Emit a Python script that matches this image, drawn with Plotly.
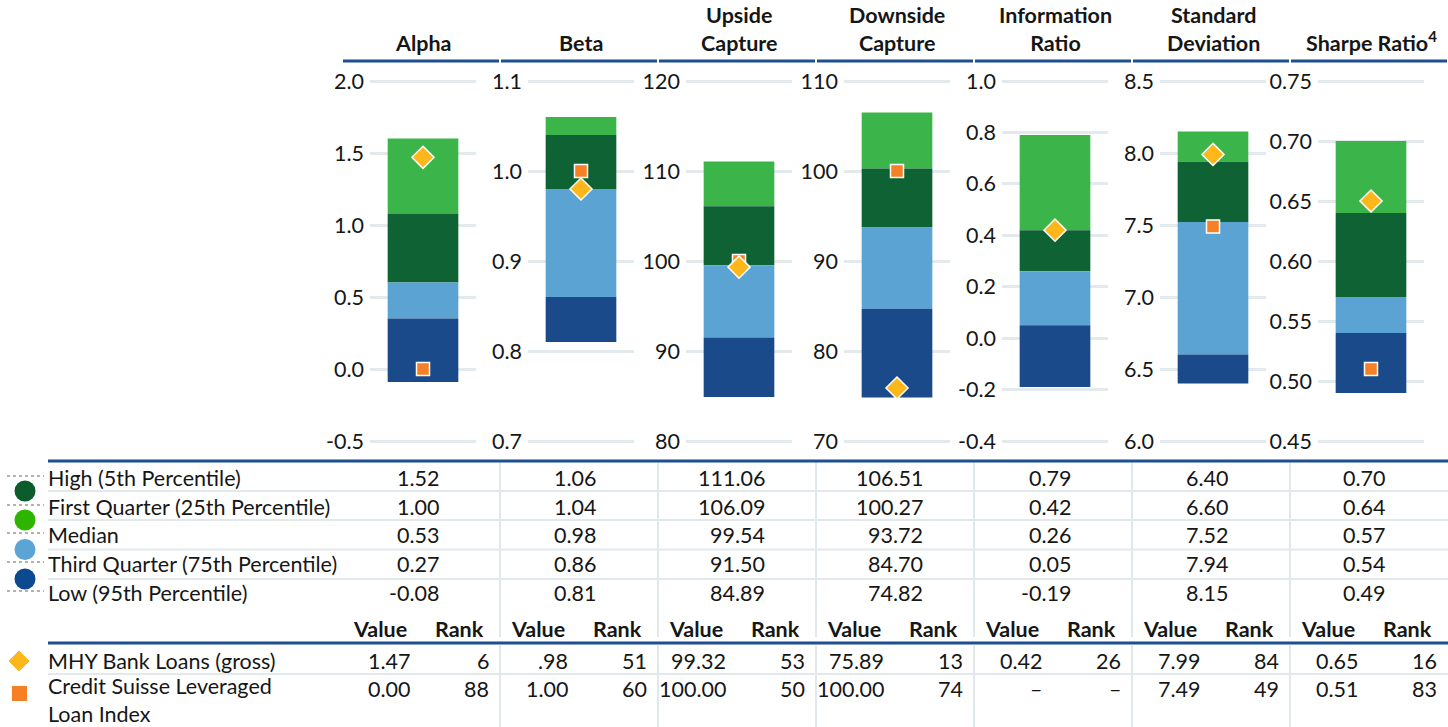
import plotly.graph_objects as go

W, H = 1448, 727

# ---- data ----
metric_titles = ['Alpha', 'Beta', 'Upside<br>Capture', 'Downside<br>Capture',
                 'Information<br>Ratio', 'Standard<br>Deviation', 'Sharpe Ratio<sup>4</sup>']

axis_ticks = [
    [-0.5, 0.0, 0.5, 1.0, 1.5, 2.0],
    [0.7, 0.8, 0.9, 1.0, 1.1],
    [80, 90, 100, 110, 120],
    [70, 80, 90, 100, 110],
    [-0.4, -0.2, 0.0, 0.2, 0.4, 0.6, 0.8, 1.0],
    [6.0, 6.5, 7.0, 7.5, 8.0, 8.5],
    [0.45, 0.50, 0.55, 0.60, 0.65, 0.70, 0.75],
]
tick_formats = ['.1f', '.1f', '.0f', '.0f', '.1f', '.1f', '.2f']

# bar segment edges as drawn, top to bottom
bar_edges = [
    [1.60, 1.08, 0.60, 0.35, -0.09],
    [1.06, 1.04, 0.98, 0.86, 0.81],
    [111.06, 106.09, 99.54, 91.50, 84.89],
    [106.51, 100.27, 93.72, 84.70, 74.82],
    [0.79, 0.42, 0.26, 0.05, -0.19],
    [8.15, 7.94, 7.52, 6.60, 6.40],
    [0.70, 0.64, 0.57, 0.54, 0.49],
]

pct_labels = ['High (5th Percentile)', 'First Quarter (25th Percentile)', 'Median',
              'Third Quarter (75th Percentile)', 'Low (95th Percentile)']
alpha_pct = ['1.52', '1.00', '0.53', '0.27', '-0.08']
beta_pct = ['1.06', '1.04', '0.98', '0.86', '0.81']
upside_pct = ['111.06', '106.09', '99.54', '91.50', '84.89']
downside_pct = ['106.51', '100.27', '93.72', '84.70', '74.82']
info_pct = ['0.79', '0.42', '0.26', '0.05', '-0.19']
std_pct = ['6.40', '6.60', '7.52', '7.94', '8.15']
sharpe_pct = ['0.70', '0.64', '0.57', '0.54', '0.49']
pct_table = [alpha_pct, beta_pct, upside_pct, downside_pct, info_pct, std_pct, sharpe_pct]

fund_name = 'MHY Bank Loans (gross)'
fund_values = [1.47, 0.98, 99.32, 75.89, 0.42, 7.99, 0.65]
fund_value_text = ['1.47', '.98', '99.32', '75.89', '0.42', '7.99', '0.65']
fund_ranks = [6, 51, 53, 13, 26, 84, 16]

index_name = 'Credit Suisse Leveraged<br>Loan Index'
index_values = [0.00, 1.00, 100.00, 100.00, None, 7.49, 0.51]
index_value_text = ['0.00', '1.00', '100.00', '100.00', '–', '7.49', '0.51']
index_ranks = ['88', '60', '50', '74', '–', '49', '83']

# ---- style ----
FONT = 'Lato'
FS = 21.5
TXT = '#161616'
BLUE_LINE = '#1d4f91'
GRID = '#e3eaee'
SEP = '#e2e9ed'
seg_colors = ['#3bb54a', '#0f6234', '#5ba3d3', '#1a4a8a']
legend_colors = ['#0b5e2b', '#2db500', '#5ba4d6', '#0b4a8e']
DIAMOND = '#fdb71b'
SQUARE = '#f58026'

col_left = [342, 500, 658, 816, 974, 1132, 1290]
COL_W = 158
pct_right = [99, 98, 109, 109, 99, 98, 97]
pct_rows_y = [478, 507, 535, 564, 593]
row_seps_y = [491, 520, 549.5, 579]


def xp(px):
    return px / W


def yp(py):
    return 1 - py / H


def label(x, y, text, anchor='right', size=FS, **kw):
    return dict(x=xp(x), y=yp(y), xref='paper', yref='paper', xanchor=anchor, yanchor='middle',
                text=text, showarrow=False, font=dict(family=FONT, size=size, color=TXT), **kw)


def hline(x0, x1, y, color, width, dash='solid'):
    return dict(type='line', xref='paper', yref='paper', x0=xp(x0), x1=xp(x1), y0=yp(y), y1=yp(y),
                line=dict(color=color, width=width, dash=dash))


fig = go.Figure()
layout_axes = {}
annotations = []
shapes = []

PLOT_TOP, PLOT_BOT, PAD = 81, 441, 4

for i in range(7):
    n = i + 1
    xa, ya = ('x', 'y') if n == 1 else (f'x{n}', f'y{n}')
    left = col_left[i]
    edges = bar_edges[i]
    for s in range(4):
        fig.add_trace(go.Bar(
            x=[0], y=[edges[s] - edges[s + 1]], base=[edges[s + 1]], width=1.0,
            marker=dict(color=seg_colors[s], line=dict(width=0)),
            xaxis=xa, yaxis=ya, hoverinfo='skip', showlegend=False,
        ))
    if index_values[i] is not None:
        fig.add_trace(go.Scatter(
            x=[0], y=[index_values[i]], mode='markers',
            marker=dict(symbol='square', size=13, color=SQUARE, line=dict(color='white', width=1.5)),
            xaxis=xa, yaxis=ya, showlegend=False,
        ))
    fig.add_trace(go.Scatter(
        x=[0], y=[fund_values[i]], mode='markers',
        marker=dict(symbol='diamond', size=17, color=DIAMOND, line=dict(color='white', width=1.5)),
        xaxis=xa, yaxis=ya, showlegend=False,
    ))

    ticks = axis_ticks[i]
    lo, hi = ticks[0], ticks[-1]
    pad = (hi - lo) * PAD / (PLOT_BOT - PLOT_TOP)
    layout_axes['xaxis' if n == 1 else f'xaxis{n}'] = dict(
        domain=[xp(left + 28), xp(left + 134)], range=[-0.75, 0.75],
        visible=False, anchor=ya, fixedrange=True, automargin=False,
    )
    layout_axes['yaxis' if n == 1 else f'yaxis{n}'] = dict(
        domain=[yp(PLOT_BOT + PAD), yp(PLOT_TOP - PAD)], range=[lo - pad, hi + pad],
        tickvals=ticks, ticktext=[f'{v:{tick_formats[i]}}' for v in ticks],
        showgrid=True, gridcolor=GRID, gridwidth=3, zeroline=False, showline=False,
        ticks='', ticklabelstandoff=5, tickfont=dict(family=FONT, size=FS, color=TXT),
        anchor=xa, fixedrange=True, automargin=False,
    )

    # header title
    annotations.append(dict(
        x=xp(left + 81), y=yp(58), xref='paper', yref='paper', xanchor='center', yanchor='bottom',
        text=f'<b>{metric_titles[i]}</b>', showarrow=False,
        font=dict(family=FONT, size=FS, color=TXT),
    ))
    shapes.append(hline(left + 1, left + COL_W - 1, 61, BLUE_LINE, 3))

    # percentile table
    for r in range(5):
        annotations.append(label(left + pct_right[i], pct_rows_y[r], pct_table[i][r]))

    # value / rank header
    annotations.append(label(left + 67, 629, '<b>Value</b>'))
    annotations.append(label(left + 144, 629, '<b>Rank</b>'))

    # fund and index rows
    for yy, vtxt, rtxt in [(661, fund_value_text[i], str(fund_ranks[i])),
                           (689, index_value_text[i], index_ranks[i])]:
        annotations.append(label(left + 70, yy, vtxt))
        annotations.append(label(left + 149, yy, rtxt))

    # vertical separators
    if i > 0:
        for y0, y1 in [(462, 637), (645, 727)]:
            shapes.append(dict(type='line', xref='paper', yref='paper',
                               x0=xp(left), x1=xp(left), y0=yp(y0), y1=yp(y1),
                               line=dict(color=SEP, width=2)))

# horizontal rules
shapes.append(hline(48, W, 461, BLUE_LINE, 3))
shapes.append(hline(48, W, 643, BLUE_LINE, 3))
for yy in row_seps_y + [674]:
    shapes.append(hline(48, W, yy, SEP, 2))

# percentile labels, dotted leaders and legend circles
for r, lab in enumerate(pct_labels):
    annotations.append(label(46, pct_rows_y[r], lab, anchor='left'))
    shapes.append(hline(7, 44, pct_rows_y[r] - 2, '#666666', 1, 'dot'))
for r in range(4):
    cy = row_seps_y[r]
    shapes.append(dict(type='circle', xref='paper', yref='paper',
                       x0=xp(14.5), x1=xp(35.5), y0=yp(cy + 10.5), y1=yp(cy - 10.5),
                       fillcolor=legend_colors[r], line=dict(width=0)))

# fund / index legend
annotations.append(label(46, 661, fund_name, anchor='left'))
annotations.append(label(46, 700, index_name, anchor='left', align='left'))
shapes.append(dict(type='path', xref='paper', yref='paper',
                   path=f'M {xp(8)} {yp(661)} L {xp(19)} {yp(650)} L {xp(30)} {yp(661)} L {xp(19)} {yp(672)} Z',
                   fillcolor=DIAMOND, line=dict(color='white', width=1)))
shapes.append(dict(type='rect', xref='paper', yref='paper',
                   x0=xp(12), x1=xp(27), y0=yp(701), y1=yp(686),
                   fillcolor=SQUARE, line=dict(width=0)))

fig.update_layout(
    width=W, height=H,
    margin=dict(l=0, r=0, t=0, b=0, pad=0, autoexpand=False),
    paper_bgcolor='white', plot_bgcolor='white',
    barmode='overlay', showlegend=False,
    font=dict(family=FONT, color=TXT),
    annotations=annotations, shapes=shapes,
    **layout_axes,
)

# page body margin would push the 1448x727 figure off the window
fig.write_html('out.html', config={'displayModeBar': False},
               post_script="document.body.style.margin='0';document.body.style.overflow='hidden';")
